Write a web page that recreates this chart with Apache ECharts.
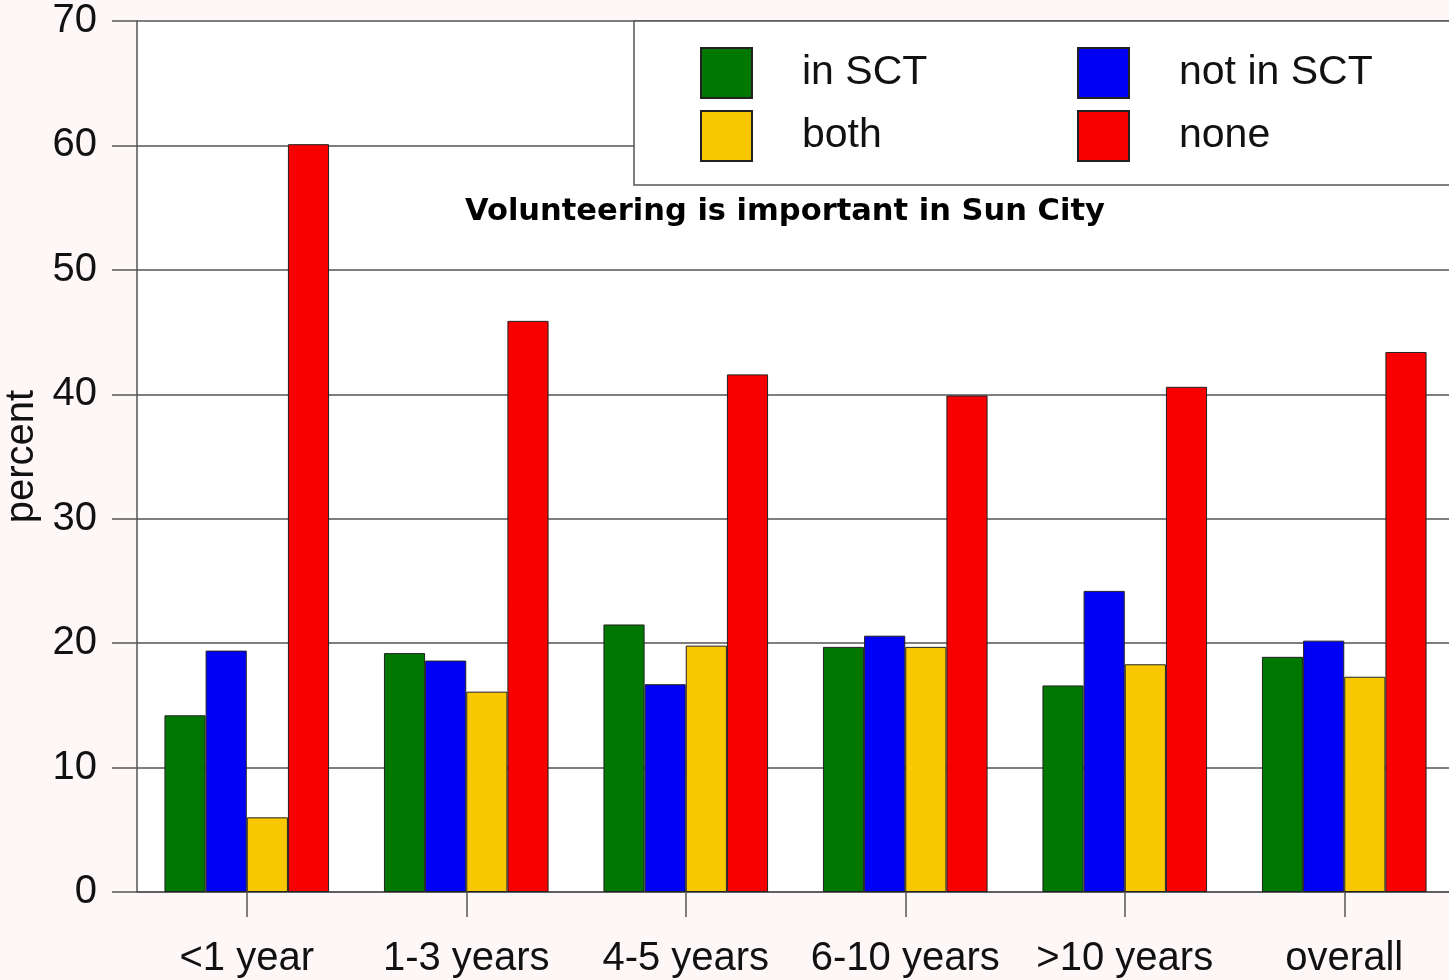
<!DOCTYPE html>
<html>
<head>
<meta charset="utf-8">
<script src="https://cdn.jsdelivr.net/npm/echarts@6/dist/echarts.min.js"></script>
<style>
  html, body { margin: 0; padding: 0; background: #fdf8f7; }
  #chart { width: 1449px; height: 980px; }
</style>
</head>
<body>
<div id="chart"></div>
<script>
// data
var categories = ['<1 year', '1-3 years', '4-5 years', '6-10 years', '>10 years', 'overall'];
var inSCT    = [14.2, 19.2, 21.5, 19.7, 16.6, 18.9];
var notInSCT = [19.4, 18.6, 16.7, 20.6, 24.2, 20.2];
var both     = [6.0, 16.1, 19.8, 19.7, 18.3, 17.3];
var none     = [60.1, 45.9, 41.6, 39.9, 40.6, 43.4];
var yTicks = { min: 0, max: 70, interval: 10 };

var chart = echarts.init(document.getElementById('chart'));

var lineColor = '#555';
var font = 'Liberation Sans, Arial, sans-serif';

function bar(name, data, color) {
  return {
    name: name,
    type: 'bar',
    data: data,
    barGap: '0%',
    barCategoryGap: '25%',
    itemStyle: { color: color, borderColor: '#222', borderWidth: 1 }
  };
}

// one legend per entry so the 2x2 grid lines up like the original
function legendAt(name, left, top) {
  return {
    data: [name],
    left: left, top: top,
    padding: 0,
    z: 10,
    itemWidth: 51, itemHeight: 50,
    icon: 'rect',
    selectedMode: false,
    textStyle: { fontSize: 41, fontFamily: font, color: '#111', padding: [4, 0, 0, 45] }
  };
}

var option = {
  backgroundColor: '#fdf8f7',
  animation: false,
  title: {
    text: 'Volunteering is important in Sun City',
    left: 460,
    top: 192,
    textStyle: { fontSize: 30.5, fontWeight: 'bold', fontFamily: 'DejaVu Sans, Verdana, sans-serif', color: '#000' }
  },
  graphic: [{
    type: 'rect',
    z: 5,
    shape: { x: 634, y: 21, width: 830, height: 164 },
    style: { fill: '#fff', stroke: lineColor, lineWidth: 1.5 }
  }],
  legend: [
    legendAt('in SCT', 700, 47),
    legendAt('not in SCT', 1077, 47),
    legendAt('both', 700, 110),
    legendAt('none', 1077, 110)
  ],
  grid: {
    left: 137, top: 21, right: -5, bottom: 88,
    outerBoundsMode: 'none',
    containLabel: false,
    show: true, backgroundColor: '#fff', borderWidth: 0
  },
  xAxis: {
    type: 'category',
    data: categories,
    axisLine: { lineStyle: { color: lineColor, width: 1.5 } },
    axisTick: { show: true, alignWithLabel: true, length: 25, lineStyle: { color: lineColor, width: 1.5 } },
    axisLabel: { fontSize: 40, fontFamily: font, color: '#111', margin: 47, interval: 0 }
  },
  yAxis: {
    type: 'value',
    min: yTicks.min, max: yTicks.max, interval: yTicks.interval,
    name: 'percent',
    nameLocation: 'middle',
    nameGap: 84,
    nameTextStyle: { fontSize: 40, fontFamily: font, color: '#111' },
    axisLine: { show: true, lineStyle: { color: lineColor, width: 1.5 } },
    axisTick: { show: true, length: 25, lineStyle: { color: lineColor, width: 1.5 } },
    axisLabel: { fontSize: 40, fontFamily: font, color: '#111', margin: 40 },
    splitLine: { show: true, lineStyle: { color: lineColor, width: 1.5 } }
  },
  series: [
    bar('in SCT', inSCT, '#007700'),
    bar('not in SCT', notInSCT, '#0000f5'),
    bar('both', both, '#fac800'),
    bar('none', none, '#f80000')
  ]
};

chart.setOption(option);
</script>
</body>
</html>
